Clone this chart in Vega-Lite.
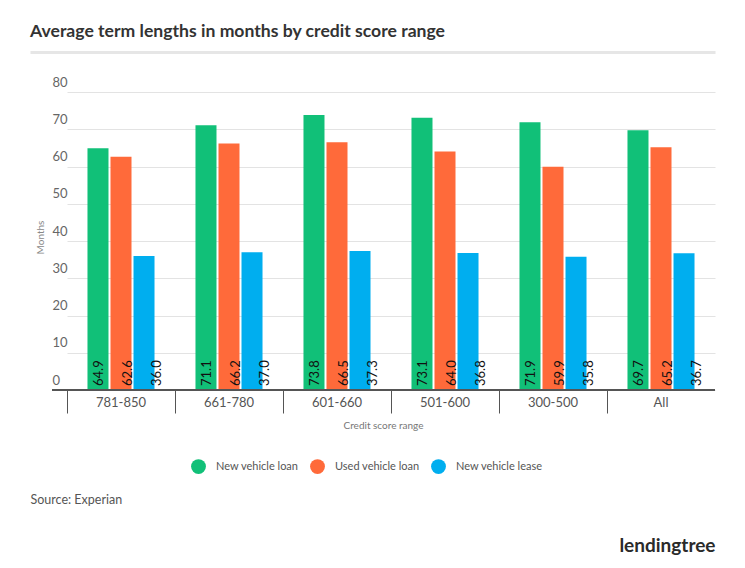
{
  "$schema": "https://vega.github.io/schema/vega-lite/v6.json",
  "width": 663,
  "height": 298,
  "autosize": {"type": "none"},
  "padding": {"left": 52, "top": 92, "right": 30, "bottom": 178},
  "background": "#ffffff",
  "config": {"view": {"stroke": null}, "font": "Lato"},
  "title": {
    "text": "Average term lengths in months by credit score range",
    "anchor": "start",
    "frame": "group",
    "dx": -22,
    "dy": 19,
    "offset": 12,
    "baseline": "bottom",
    "font": "Lato",
    "fontSize": 17.6,
    "fontWeight": "bold",
    "color": "#333333"
  },
  "data": {
    "values": [
      {"range": "781-850", "series": "New vehicle loan", "value": 64.9},
      {"range": "781-850", "series": "Used vehicle loan", "value": 62.6},
      {"range": "781-850", "series": "New vehicle lease", "value": 36.0},
      {"range": "661-780", "series": "New vehicle loan", "value": 71.1},
      {"range": "661-780", "series": "Used vehicle loan", "value": 66.2},
      {"range": "661-780", "series": "New vehicle lease", "value": 37.0},
      {"range": "601-660", "series": "New vehicle loan", "value": 73.8},
      {"range": "601-660", "series": "Used vehicle loan", "value": 66.5},
      {"range": "601-660", "series": "New vehicle lease", "value": 37.3},
      {"range": "501-600", "series": "New vehicle loan", "value": 73.1},
      {"range": "501-600", "series": "Used vehicle loan", "value": 64.0},
      {"range": "501-600", "series": "New vehicle lease", "value": 36.8},
      {"range": "300-500", "series": "New vehicle loan", "value": 71.9},
      {"range": "300-500", "series": "Used vehicle loan", "value": 59.9},
      {"range": "300-500", "series": "New vehicle lease", "value": 35.8},
      {"range": "All", "series": "New vehicle loan", "value": 69.7},
      {"range": "All", "series": "Used vehicle loan", "value": 65.2},
      {"range": "All", "series": "New vehicle lease", "value": 36.7}
    ]
  },
  "resolve": {
    "scale": {"x": "independent", "xOffset": "independent"},
    "axis": {"x": "independent", "y": "independent"}
  },
  "layer": [
    {
      "mark": {"type": "bar"},
      "encoding": {
        "x": {
          "field": "range",
          "type": "nominal",
          "sort": ["781-850", "661-780", "601-660", "501-600", "300-500", "All"],
          "scale": {"range": [15, 663], "paddingInner": 0, "paddingOuter": 0},
          "axis": {
            "orient": "bottom",
            "domain": false,
            "ticks": false,
            "grid": false,
            "labelAngle": 0,
            "labelPadding": 6,
            "labelFont": "Lato",
            "labelFontSize": 13,
            "labelColor": "#555555",
            "title": "Credit score range",
            "titleFont": "Lato",
            "titleFontSize": 10,
            "titleFontWeight": "normal",
            "titleColor": "#777777",
            "titleX": 331,
            "titleY": 35,
            "titleBaseline": "middle"
          }
        },
        "y": {
          "field": "value",
          "type": "quantitative",
          "scale": {"domain": [0, 80], "nice": false},
          "axis": {
            "values": [0, 10, 20, 30, 40, 50, 60, 70, 80],
            "grid": true,
            "gridColor": "#e3e3e3",
            "gridWidth": 1,
            "domain": false,
            "ticks": false,
            "tickSize": 0,
            "labelAlign": "left",
            "labelBaseline": "bottom",
            "labelPadding": 0,
            "labelOffset": -3,
            "labelFont": "Lato",
            "labelFontSize": 13,
            "labelColor": "#666666",
            "title": "Months",
            "titleFont": "Lato",
            "titleFontSize": 10,
            "titleFontWeight": "normal",
            "titleColor": "#888888",
            "titleX": -12,
            "titleY": 145,
            "titleAngle": -90,
            "titleAlign": "center",
            "titleBaseline": "middle"
          }
        },
        "xOffset": {
          "field": "series",
          "type": "nominal",
          "sort": ["New vehicle loan", "Used vehicle loan", "New vehicle lease"],
          "scale": {"paddingInner": 0.087, "paddingOuter": 0.89}
        },
        "color": {
          "field": "series",
          "type": "nominal",
          "sort": ["New vehicle loan", "Used vehicle loan", "New vehicle lease"],
          "scale": {
            "domain": ["New vehicle loan", "Used vehicle loan", "New vehicle lease"],
            "range": ["#11c078", "#ff6a3a", "#00aeef"]
          },
          "legend": {
            "orient": "none",
            "direction": "horizontal",
            "legendX": 139,
            "legendY": 367,
            "title": null,
            "symbolType": "circle",
            "symbolSize": 220,
            "symbolStrokeWidth": 0,
            "labelFont": "Lato",
            "labelFontSize": 11,
            "labelColor": "#555555",
            "labelOffset": 10,
            "columnPadding": 11
          }
        }
      }
    },
    {
      "mark": {
        "type": "text",
        "angle": 270,
        "align": "left",
        "baseline": "middle",
        "dx": 4,
        "dy": 7,
        "font": "Lato",
        "fontSize": 13,
        "color": "#111111"
      },
      "encoding": {
        "x": {
          "field": "range",
          "type": "nominal",
          "sort": ["781-850", "661-780", "601-660", "501-600", "300-500", "All"],
          "scale": {"range": [15, 663], "paddingInner": 0, "paddingOuter": 0},
          "axis": {
            "orient": "bottom",
            "domain": false,
            "labels": false,
            "grid": false,
            "ticks": true,
            "bandPosition": 0,
            "tickSize": 23,
            "tickColor": "#555555",
            "tickWidth": 1,
            "title": "Source: Experian",
            "titleFont": "Lato",
            "titleFontSize": 12.5,
            "titleFontWeight": "normal",
            "titleColor": "#555555",
            "titleX": -22,
            "titleY": 109,
            "titleAlign": "left",
            "titleAnchor": "start",
            "titleBaseline": "middle",
            "titleAngle": 0
          }
        },
        "y": {"datum": 0, "type": "quantitative", "axis": null},
        "xOffset": {
          "field": "series",
          "type": "nominal",
          "sort": ["New vehicle loan", "Used vehicle loan", "New vehicle lease"],
          "scale": {"paddingInner": 0.087, "paddingOuter": 0.89}
        },
        "text": {"field": "value", "type": "quantitative", "format": ".1f"}
      }
    },
    {
      "mark": {"type": "rule", "color": "#555555", "strokeWidth": 2},
      "encoding": {
        "y": {"datum": 0, "type": "quantitative", "axis": null}
      }
    },
    {
      "mark": {"type": "point", "opacity": 0},
      "encoding": {
        "x": {
          "datum": 0,
          "type": "quantitative",
          "scale": {"domain": [0, 1], "range": [-22, 663]},
          "axis": {
            "orient": "top",
            "offset": 40,
            "domainColor": "#e6e6e6",
            "domainWidth": 3,
            "labels": false,
            "ticks": false,
            "grid": false,
            "title": null
          }
        },
        "y": {
          "datum": 0,
          "type": "quantitative",
          "axis": {
            "orient": "right",
            "labels": false,
            "ticks": false,
            "domain": false,
            "grid": false,
            "title": "lendingtree",
            "titleAngle": 0,
            "titleX": 0,
            "titleY": 453,
            "titleAlign": "right",
            "titleBaseline": "middle",
            "titleFont": "Lato",
            "titleFontSize": 19,
            "titleFontWeight": "bold",
            "titleColor": "#2a2a2a"
          }
        }
      }
    }
  ]
}
